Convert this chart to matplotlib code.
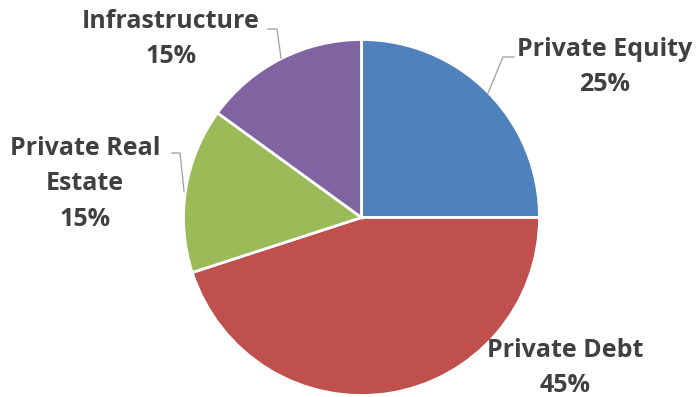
import matplotlib
matplotlib.use("Agg")
import matplotlib.pyplot as plt

categories = ["Private Equity", "Private Debt", "Private Real\nEstate", "Infrastructure"]
shares = [25, 45, 15, 15]
colors = ["#4F81BD", "#C0504D", "#9BBB59", "#8064A2"]

W, H = 698, 397
fig = plt.figure(figsize=(W / 100, H / 100), dpi=100)
ax = fig.add_axes([0, 0, 1, 1])

# pixel-like coordinates, y measured from the bottom
cx, cy, r = 361.5, H - 217.5, 178
ax.pie(shares, colors=colors, startangle=90, counterclock=False,
       center=(cx, cy), radius=r,
       wedgeprops=dict(edgecolor="white", linewidth=2))

ax.set_xlim(0, W)
ax.set_ylim(0, H)
ax.set_aspect("equal")
ax.axis("off")

txt = dict(fontsize=18, fontweight="bold", color="#404040",
           family=["Open Sans", "DejaVu Sans"], ha="center", va="center",
           linespacing=1.55)

# label anchor (text centre) and leader line points, top-left pixel coords
label_pos = [(605, 67), (565, 368), (85, 184), (171, 39)]
leaders = [
    [(488, 93), (503, 57), (514, 57)],
    None,
    [(172, 153), (180, 153), (184, 191)],
    [(268, 29), (277, 29), (281, 58)],
]

for name, v, (lx, ly), pts in zip(categories, shares, label_pos, leaders):
    ax.text(lx, H - ly, f"{name}\n{v}%", **txt)
    if pts:
        xs = [p[0] for p in pts]
        ys = [H - p[1] for p in pts]
        ax.plot(xs, ys, color="#A6A6A6", linewidth=1)

fig.savefig("out.png", dpi=100)
